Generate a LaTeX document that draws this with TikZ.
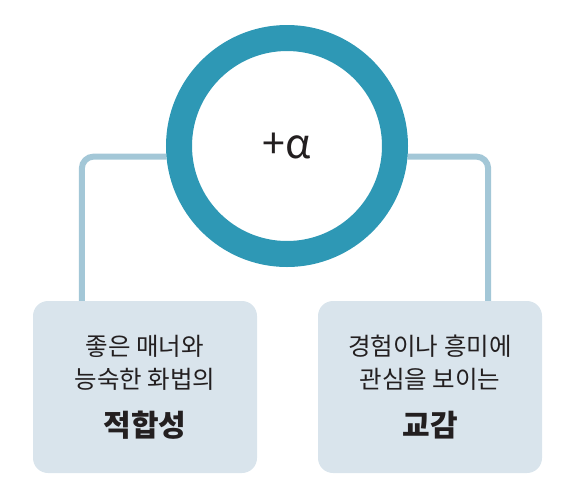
\documentclass[tikz,border=0pt]{standalone}
\usepackage{fontspec}
\usepackage{xcolor}
\usepackage{tikz}
\usetikzlibrary{backgrounds}
\newfontfamily\kr{Noto Sans CJK KR}
\definecolor{ringblue}{RGB}{46,152,181}
\definecolor{linkblue}{RGB}{163,199,215}
\definecolor{boxgray}{RGB}{217,228,236}
\definecolor{inkdark}{RGB}{35,31,32}

\begin{document}
\begin{tikzpicture}[
  x=1pt, y=-1pt,
  every node/.style={font=\kr, text=inkdark},
  ring/.style={circle, draw=ringblue, line width=26pt, fill=white, minimum size=216pt},
  card/.style={rectangle, rounded corners=15pt, fill=boxgray, minimum width=224pt,
    minimum height=172pt, align=center, font=\kr\fontsize{24.5}{33}\selectfont},
  link/.style={draw=linkblue, line width=6pt, rounded corners=12pt}
]
  \useasboundingbox (0,0) rectangle (575,499);

  \node[ring, font=\kr\fontsize{41}{41}\selectfont] (alpha) at (287,146) {+α};
  \node[card] (fit) at (145,387) {좋은 매너와\\능숙한 화법의\\[15pt]{\bfseries\fontsize{30}{30}\selectfont 적합성}};
  \node[card] (empathy) at (430,387) {경험이나 흥미에\\관심을 보이는\\[15pt]{\bfseries\fontsize{30}{30}\selectfont 교감}};

  \begin{scope}[on background layer]
    \draw[link] (alpha.185) -| ([xshift=49pt]fit.north west);
    \draw[link] (alpha.355) -| ([xshift=-54pt]empathy.north east);
  \end{scope}
\end{tikzpicture}
\end{document}
